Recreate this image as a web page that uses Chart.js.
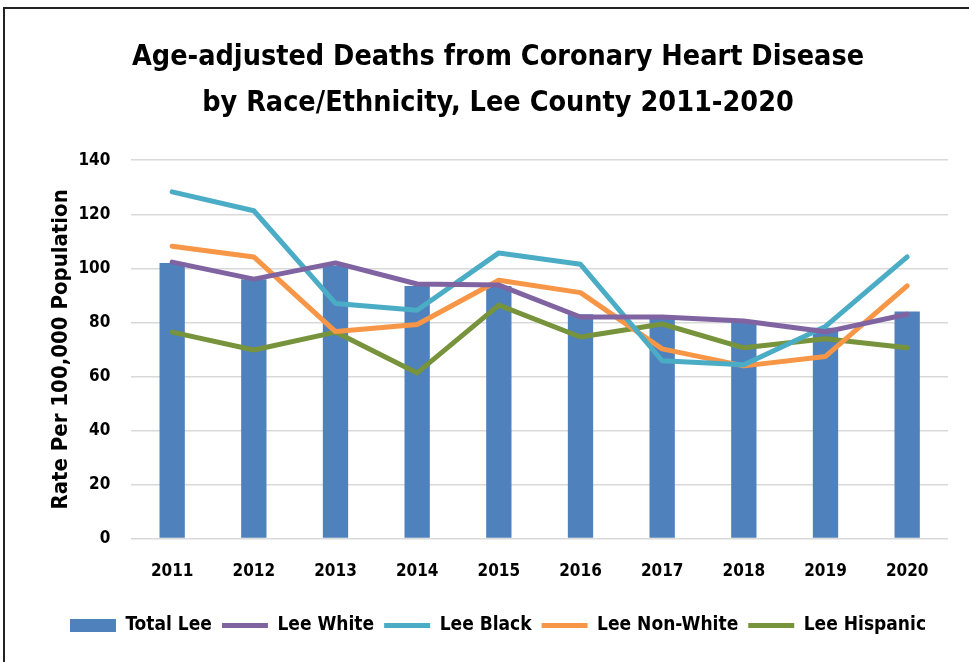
<!DOCTYPE html>
<html>
<head>
<meta charset="utf-8">
<script src="https://cdn.jsdelivr.net/npm/chart.js@4"></script>
<style>
  html, body { margin: 0; padding: 0; background: #fff; }
  #wrap { width: 969px; height: 662px; position: relative; }
</style>
</head>
<body>
<div id="wrap"><canvas id="lineChart" width="969" height="662"></canvas></div>
<script>
const years = ["2011","2012","2013","2014","2015","2016","2017","2018","2019","2020"]
const totalLee = [102, 96, 101, 93.5, 93.5, 83, 81.5, 80.5, 78, 84]
const leeWhite = [102.3, 96, 102, 94.2, 93.8, 82, 82, 80.5, 76.5, 83]
const leeBlack = [128.3, 121.3, 87, 84.5, 105.7, 101.5, 65.8, 64.3, 78.5, 104.2]
const leeNonWhite = [108.2, 104.2, 76.6, 79.2, 95.6, 91, 70.2, 63.9, 67.4, 93.5]
const leeHispanic = [76.4, 69.8, 76.4, 61.3, 86.4, 74.6, 79.4, 70.6, 73.9, 70.6]

const fontFamily = "'Liberation Sans Narrow', 'DejaVu Sans Condensed', sans-serif";

function lineSet(label, values, color) {
  return {
    type: 'line',
    label: label,
    data: values,
    borderColor: color,
    backgroundColor: color,
    borderWidth: 5,
    pointRadius: 0,
    pointHoverRadius: 0,
    tension: 0,
    borderCapStyle: 'round',
    borderJoinStyle: 'round',
    pointStyle: 'line',
    fill: false,
    order: 0
  };
}

// frame line along the top and left edge, like the cropped chart border
const framePlugin = {
  id: 'frame',
  afterDraw(chart) {
    const c = chart.ctx;
    c.save();
    c.strokeStyle = '#222';
    c.lineWidth = 2;
    c.beginPath();
    c.moveTo(4, 662);
    c.lineTo(4, 8);
    c.lineTo(969, 8);
    c.stroke();
    c.restore();
  }
};

const ctx = document.getElementById('lineChart').getContext('2d');

new Chart(ctx, {
  data: {
    labels: years,
    datasets: [
      {
        type: 'bar',
        label: 'Total Lee',
        data: totalLee,
        backgroundColor: '#4f81bd',
        borderWidth: 0,
        barPercentage: 0.31,
        categoryPercentage: 1,
        pointStyle: 'rect',
        order: 1
      },
      lineSet('Lee White', leeWhite, '#8064a2'),
      lineSet('Lee Black', leeBlack, '#4bacc6'),
      lineSet('Lee Non-White', leeNonWhite, '#f79646'),
      lineSet('Lee Hispanic', leeHispanic, '#77933c')
    ]
  },
  options: {
    responsive: false,
    animation: false,
    layout: {
      padding: { left: 48, right: 21, top: 0, bottom: 17 }
    },
    scales: {
      x: {
        grid: { display: false },
        border: { display: false },
        ticks: {
          color: '#000',
          padding: 15,
          font: { family: fontFamily, size: 17, weight: 'bold' }
        },
        // empty title only used as a spacer above the legend
        title: {
          display: true,
          text: ' ',
          font: { size: 1, lineHeight: 1 },
          padding: { top: 8, bottom: 0 }
        }
      },
      y: {
        min: 0,
        max: 140,
        ticks: {
          stepSize: 20,
          color: '#000',
          padding: 3,
          font: { family: fontFamily, size: 17, weight: 'bold' }
        },
        grid: { color: '#d9d9d9', lineWidth: 1.5, drawTicks: true, tickLength: 18, tickColor: 'rgba(0,0,0,0)' },
        border: { display: false },
        title: {
          display: true,
          text: 'Rate Per 100,000 Population',
          color: '#000',
          padding: { top: 0, bottom: 1 },
          font: { family: fontFamily, size: 22, weight: 'bold' }
        }
      }
    },
    plugins: {
      title: {
        display: true,
        text: ['Age-adjusted Deaths from Coronary Heart Disease', 'by Race/Ethnicity, Lee County 2011-2020'],
        color: '#000',
        font: { family: fontFamily, size: 28.5, weight: 'bold', lineHeight: 1.6 },
        padding: { top: 35, bottom: 34 }
      },
      legend: {
        display: true,
        position: 'bottom',
        labels: {
          usePointStyle: true,
          pointStyleWidth: 46,
          boxHeight: 13,
          padding: 10,
          color: '#000',
          font: { family: fontFamily, size: 19, weight: 'bold' },
          sort: (a, b) => a.datasetIndex - b.datasetIndex
        }
      },
      tooltip: { enabled: false }
    }
  },
  plugins: [framePlugin]
});
</script>
</body>
</html>
